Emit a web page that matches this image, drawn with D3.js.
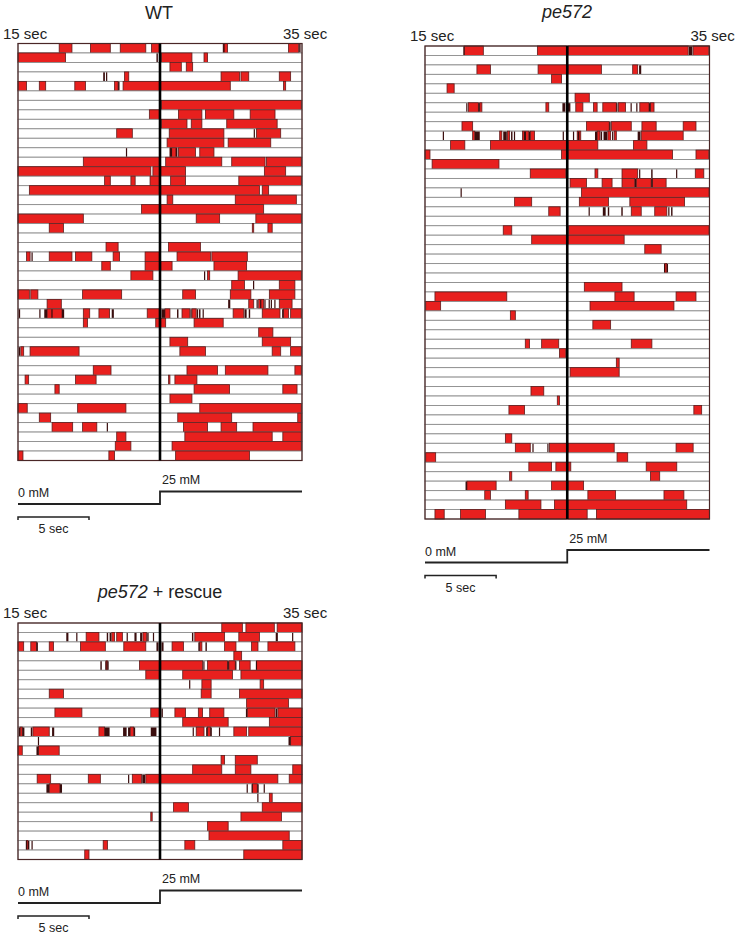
<!DOCTYPE html>
<html><head><meta charset="utf-8">
<script src="https://cdn.jsdelivr.net/npm/d3@7"></script>
<style>body{margin:0;background:#fff}svg{display:block;font-family:"Liberation Sans",Arial,sans-serif}</style>
</head><body>
<svg id="chart" width="739" height="943"></svg>
<script>
// ---------------- DATA (seconds, 15-35 window) ----------------
const timeLabels = ["15 sec", "35 sec"];
const stimLevels = [0, 25];
const stimLabels = ["0 mM", "25 mM"];
const scaleBarSec = 5;
const scaleLabel = "5 sec";
const panelTitles = ["WT", "pe572", "pe572 + rescue"];

// WT: red response intervals per larva (row)
const wtRed = [
 [[17.9,18.8],[20.1,21.5],[22.2,24.0],[24.4,24.95],[29.45,29.75],[34.05,34.75]],
 [[15,18.35],[25.1,27.25],[28.1,28.35]],
 [[25.7,26.5],[26.85,27.3]],
 [[22.5,22.8],[29.3,30.6],[30.7,31.25],[33.4,34.2]],
 [[15,15.6],[16.5,16.95],[19.0,19.75],[21.8,22.05],[22.4,24.95],[25.05,29.95],[33.7,33.85]],
 [],
 [[25.1,34.95]],
 [[24.25,24.95],[26.3,27.95],[28.2,30.2],[31.35,33.1]],
 [[25.1,26.9],[27.2,27.95],[29.7,33.25]],
 [[21.95,23.05],[25.65,29.5],[31.8,33.5]],
 [[25.5,29.5],[29.8,32.8]],
 [[25.7,26.2],[26.3,27.5],[27.8,28.8]],
 [[19.6,24.95],[25.4,29.35],[30.05,32.4],[32.5,34.95]],
 [[15,24.35],[24.5,24.95],[25.05,26.8],[32.35,33.85]],
 [[21.1,21.5],[22.95,23.25],[24.3,24.95],[25.75,26.8],[30.55,34.95]],
 [[15.8,24.95],[25.05,32.0],[32.2,32.65]],
 [[25.5,25.9],[30.3,34.6]],
 [[23.7,24.95],[25.05,32.3]],
 [[15,19.6],[27.55,29.2],[31.75,34.95]],
 [[17.2,18.2],[31.5,31.6],[32.6,32.9]],
 [],
 [[21.2,22.05],[25.6,27.85]],
 [[15.6,15.85],[17.2,18.8],[19.05,20.2],[21.7,22.15],[23.95,24.95],[26.2,28.55],[28.65,31.15]],
 [[20.9,21.5],[23.95,24.95],[25.05,25.85],[28.8,31.1]],
 [[22.95,24.5],[28.35,28.5],[30.5,34.95]],
 [[30.05,30.95],[33.4,34.5]],
 [[15,15.8],[15.9,16.4],[19.55,22.3],[26.6,27.5],[29.95,31.4],[32.7,34.5]],
 [[17.05,18.05],[31.25,31.6],[31.95,32.3],[33.4,34.3]],
 [[17.05,18.1],[19.6,20.05],[20.7,21.45],[24.1,24.95],[25.35,25.7],[26.55,27.1],[27.25,27.55],[30.15,30.9],[32.2,33.45],[33.7,34.05],[34.2,34.95]],
 [[19.6,19.9],[24.7,24.95],[25.05,25.4],[27.4,29.45]],
 [[31.95,32.95]],
 [[25.7,26.95],[32.2,34.2]],
 [[15.2,15.4],[15.85,19.3],[26.4,28.2],[32.9,33.5],[34.2,34.95]],
 [],
 [[20.3,21.55],[26.9,29.05],[29.6,32.6],[34.5,34.95]],
 [[15.5,15.75],[19.05,20.5],[25.6,25.7],[26.05,27.6]],
 [[17.6,17.9],[27.4,29.9],[33.65,34.65]],
 [[25.7,27.25]],
 [[15,15.65],[19.2,22.6],[27.8,34.95]],
 [[16.5,17.3],[26.25,30.05],[34.7,34.95]],
 [[17.4,18.85],[19.55,20.55],[26.65,28.35],[29.3,30.4],[31.55,34.95]],
 [[21.95,22.6],[26.75,32.9],[33.65,34.95]],
 [[21.85,22.95],[25.85,34.95]],
 [[15,15.35],[21.4,21.8],[26.1,31.3]]
];
// WT: brief dark events per row
const wtDark = [
 [[29.45,29.55],[34.8,34.9]],
 [[24.75,24.85]],
 [],
 [[21.0,21.12],[21.2,21.28]],
 [[22.05,22.15]],
 [],[],[],[],
 [[31.6,31.67]],
 [],
 [[22.6,22.66],[25.7,25.85],[26.1,26.2]],
 [],[],[],[],[],[],[],[],[],[],
 [[15.95,16.0]],
 [],
 [[28.1,28.15]],
 [[31.55,31.6]],
 [],
 [[29.8,29.95],[31.8,31.86],[32.05,32.1],[32.35,32.4],[32.65,32.7],[32.8,32.86],[33.05,33.1]],
 [[15.05,15.15],[16.5,16.56],[16.85,17.05],[17.35,17.4],[18.1,18.25],[21.6,21.75],[25.1,25.35],[26.2,26.3],[27.14,27.2],[27.6,27.66],[27.75,27.85],[28.0,28.07],[30.95,31.1],[31.25,31.35],[33.6,33.7]],
 [],[],[],
 [[15.05,15.15]],
 [],[],[],[],[],[],[],
 [[21.25,21.3]],
 [],[],[]
];

// pe572
const peRed = [
 [[17.75,19.1],[22.9,24.95],[25.05,33.5],[33.85,34.95]],
 [],
 [[18.65,19.6],[22.95,24.95],[25.05,27.4],[29.6,29.95]],
 [[23.9,24.6]],
 [[16.55,17.05]],
 [[25.55,26.55]],
 [[18.05,18.75],[18.85,19.0],[23.5,23.7],[25.6,26.1],[26.85,27.1],[27.5,28.45],[28.6,29.1],[30.1,30.75],[30.85,31.1]],
 [],
 [[17.6,18.35],[26.35,27.95],[28.1,29.5],[30.25,31.25],[33.15,34.05]],
 [[18.35,18.5],[20.25,20.4],[20.8,20.95],[21.85,22.3],[22.4,22.7],[25.7,25.95],[27.1,27.3],[27.85,28.05],[28.3,28.45],[30.2,33.15]],
 [[16.8,17.8],[19.6,24.95],[25.05,27.15],[29.65,30.6]],
 [[15,15.35],[24.6,24.95],[25.05,32.4],[34.05,34.95]],
 [[15.5,20.2]],
 [[22.4,24.9],[26.95,27.15],[28.85,29.95],[34.0,34.6]],
 [[25.2,26.35],[27.45,28.15],[28.85,29.75],[29.85,30.9],[31.0,31.95]],
 [[26.0,34.97]],
 [[21.3,22.5],[25.85,27.9],[29.4,33.25]],
 [[23.7,24.5],[29.5,30.2],[31.15,32.0]],
 [],
 [[20.5,21.1],[25.1,34.97]],
 [[22.5,24.95],[25.05,29.0]],
 [[30.45,31.6]],
 [],
 [[31.85,32.0]],
 [],
 [[26.2,28.85]],
 [[15.7,20.75],[28.35,29.7],[32.65,34.05]],
 [[15.05,16.1],[26.6,32.5]],
 [[21.0,21.35]],
 [[26.8,28.05]],
 [],
 [[22.05,22.35],[23.2,24.4],[29.5,30.95]],
 [[24.45,24.9]],
 [[28.45,28.65]],
 [[25.2,28.65]],
 [],
 [[22.45,23.35]],
 [[24.3,24.45]],
 [[20.9,22.0],[33.9,34.45]],
 [],
 [],
 [[20.65,21.1]],
 [[21.35,22.4],[23.75,24.95],[25.05,28.3],[32.65,33.85]],
 [[15.05,15.75],[28.5,29.25]],
 [[22.3,23.9],[24.2,25.25],[30.55,32.7]],
 [[20.95,21.1],[30.85,31.5]],
 [[17.95,20.0],[23.9,24.95],[25.05,26.15]],
 [[19.2,19.6],[22.05,22.25],[26.45,28.4],[31.8,33.2]],
 [[20.65,23.15],[24.1,24.95],[25.05,33.4]],
 [[15.7,16.35],[17.5,19.25],[21.6,24.95],[25.05,26.4],[27.05,35.0]]
];
const peDark = [
 [[17.7,17.77],[33.55,33.8]],
 [],
 [[30.05,30.2]],
 [],[],[],
 [[17.9,17.96],[18.75,18.85],[24.66,24.87],[25.0,25.22],[28.45,28.5],[29.45,29.5],[29.85,29.9],[30.75,30.85]],
 [],
 [[27.95,28.05]],
 [[16.25,16.3],[18.5,18.85],[20.5,20.75],[21.05,21.15],[21.25,21.3],[21.95,22.1],[22.3,22.4],[24.68,24.73],[25.4,25.45],[25.75,25.85],[26.95,27.1],[27.35,27.45],[27.55,27.8],[28.15,28.2],[29.95,30.15]],
 [],[],[],
 [[30.05,30.1],[30.9,31.0],[32.65,32.7]],
 [[29.75,29.85],[30.9,31.0]],
 [[17.5,17.55]],
 [],
 [[26.5,26.55],[27.5,27.7],[27.85,27.95],[28.8,28.9],[32.1,32.15],[32.3,32.4]],
 [],[],[],[],[],
 [[31.8,31.85],[32.0,32.05]],
 [],[],[],[],[],[],[],[],[],[],[],[],[],[],[],[],[],[],
 [[22.55,22.6],[23.6,23.65]],
 [],[],[],
 [[17.85,17.95]],
 [],[],[]
];

// pe572 + rescue
const rsRed = [
 [[29.35,30.8],[31.05,33.05],[33.25,35.0]],
 [[19.8,20.7],[21.6,21.8],[21.95,22.35],[23.8,24.05],[27.45,29.55],[30.55,32.0]],
 [[15,15.4],[15.9,16.3],[17.2,17.5],[19.4,21.15],[22.45,24.0],[25.85,26.65],[27.8,27.95],[29.55,30.35],[31.45,31.9],[32.6,34.5]],
 [[30.2,30.75]],
 [[21.2,21.3],[23.55,24.95],[25.05,28.0],[28.35,29.75],[29.85,30.3],[30.6,31.35],[31.8,35.0]],
 [[24.0,24.95],[26.6,30.1],[30.7,35.0]],
 [[27.95,28.6],[32.05,32.3]],
 [[17.2,18.2],[27.9,28.6],[30.6,35.0]],
 [[31.1,34.05]],
 [[17.6,19.5],[24.35,24.95],[26.05,26.8],[27.7,28.0],[28.5,29.5],[31.15,33.1],[33.3,35.0]],
 [[26.6,29.8],[32.7,35.0]],
 [[15.15,15.3],[16.05,17.2],[20.7,21.1],[22.9,23.15],[27.55,28.1],[28.35,28.55],[30.2,31.1],[31.25,35.0]],
 [[34.2,35.0]],
 [[15,15.3],[16.45,17.9]],
 [[29.3,29.55],[30.3,31.85]],
 [[27.3,29.35],[30.3,31.4],[34.35,35.0]],
 [[16.35,17.3],[19.95,20.8],[23.05,23.7],[24.0,24.95],[25.05,33.3],[34.1,35.0]],
 [[17.2,17.95],[31.5,31.85]],
 [[32.7,32.9]],
 [[25.95,27.0],[32.2,35.0]],
 [[24.35,24.45],[30.7,33.55]],
 [[28.35,29.8]],
 [[28.45,34.1]],
 [[15.6,15.7],[21.0,21.3],[26.75,27.45],[33.65,35.0]],
 [[19.7,20.0],[30.9,35.0]]
];
const rsDark = [
 [],
 [[18.4,18.55],[19.1,19.15],[21.25,21.35],[21.45,21.55],[22.65,22.7],[23.2,23.35],[23.6,23.75],[24.1,24.2],[24.5,24.55],[27.25,27.35],[33.15,33.3],[34.3,34.35]],
 [[16.3,16.4],[24.75,24.9],[25.1,25.25],[27.7,27.8],[28.2,28.3]],
 [],
 [[20.8,20.9],[21.15,21.2],[21.3,21.35],[28.05,28.1],[29.75,29.85],[30.3,30.35],[31.75,31.8]],
 [],
 [[27.05,27.1]],
 [],[],
 [[25.1,25.2],[31.05,31.1],[33.15,33.25]],
 [],
 [[15.05,15.15],[15.3,15.45],[15.9,16.0],[17.4,17.55],[21.1,21.45],[22.4,22.65],[22.75,22.9],[23.15,23.25],[24.35,24.75],[27.3,27.35],[28.25,28.35],[28.55,28.65],[29.15,29.2]],
 [[16.4,16.45],[34.05,34.2]],
 [[16.3,16.45]],
 [],[],
 [[22.75,22.8],[23.75,23.95]],
 [[17.0,17.2],[17.95,18.1],[31.1,31.15],[31.45,31.5],[31.85,31.95],[32.3,32.35]],
 [[31.85,31.9]],
 [],[],[],[],
 [[15.55,15.6],[15.7,15.8],[15.95,16.0]],
 []
];

// ---------------- DRAW ----------------
const svg = d3.select("#chart");
const RED = "#e8201e", RED_STROKE = "#5e1c1c", ROW_STROKE = "#8e8e8e", DARK = "#3a0d0d";

function panel(cfg) {
  const g = svg.append("g");
  const n = cfg.red.length;
  const x = d3.scaleLinear().domain([15, 35]).range([cfg.x0, cfg.x1]);
  const y = d3.scaleBand().domain(d3.range(n)).range([cfg.y0, cfg.y1]);
  const rows = g.selectAll("g.row").data(d3.range(n)).join("g").attr("class","row");
  rows.append("rect")
    .attr("x", x(15)).attr("width", x(35) - x(15))
    .attr("y", i => y(i)).attr("height", y.bandwidth())
    .attr("fill", "#fff").attr("stroke", ROW_STROKE).attr("stroke-width", 0.9);
  rows.selectAll("rect.r").data(i => cfg.red[i].map(d => ({i, d}))).join("rect").attr("class","r")
    .attr("x", o => x(o.d[0])).attr("width", o => Math.max(1, x(o.d[1]) - x(o.d[0])))
    .attr("y", o => y(o.i)).attr("height", y.bandwidth())
    .attr("fill", RED).attr("stroke", RED_STROKE).attr("stroke-width", 0.8);
  rows.selectAll("rect.k").data(i => (cfg.dark[i] || []).map(d => ({i, d}))).join("rect").attr("class","k")
    .attr("x", o => x(o.d[0])).attr("width", o => Math.max(1.2, x(o.d[1]) - x(o.d[0])))
    .attr("y", o => y(o.i) + 0.4).attr("height", y.bandwidth() - 0.8)
    .attr("fill", DARK);
  // frame
  g.append("rect").attr("x", cfg.x0).attr("y", cfg.y0)
    .attr("width", cfg.x1 - cfg.x0).attr("height", cfg.y1 - cfg.y0)
    .attr("fill", "none").attr("stroke", "#4a2626").attr("stroke-width", 1.2);
  // stimulus onset line
  g.append("line").attr("x1", x(25)).attr("x2", x(25))
    .attr("y1", cfg.y0).attr("y2", cfg.y1)
    .attr("stroke", "#000").attr("stroke-width", 2.6);
  // titles
  const t = g.append("text").attr("x", cfg.tx).attr("y", cfg.ty)
    .attr("text-anchor", "middle").attr("font-size", 18).attr("fill", "#222");
  if (cfg.title === panelTitles[0]) t.text(cfg.title);
  else {
    const parts = cfg.title.split(" + ");
    t.append("tspan").attr("font-style", "italic").text(parts[0]);
    if (parts[1]) t.append("tspan").text(" + " + parts[1]);
  }
  g.append("text").attr("x", cfg.x0 - 15).attr("y", cfg.y0 - 5)
    .attr("font-size", 15).attr("fill", "#222").text(timeLabels[0]);
  g.append("text").attr("x", cfg.x1 - 19).attr("y", cfg.y0 - 5)
    .attr("font-size", 15).attr("fill", "#222").text(timeLabels[1]);
  // stimulus trace
  const b = cfg.y1;
  const sy = d3.scaleLinear().domain(stimLevels).range([b + 43.5, b + 31]);
  const stimPts = [[15, stimLevels[0]], [25, stimLevels[0]], [25, stimLevels[1]], [35, stimLevels[1]]];
  g.append("path").attr("d", d3.line().x(d => x(d[0])).y(d => sy(d[1]))(stimPts))
    .attr("fill", "none").attr("stroke", "#222").attr("stroke-width", 1.8);
  g.append("text").attr("x", x(15)).attr("y", b + 36.5).attr("font-size", 12.5).attr("fill", "#222").text(stimLabels[0]);
  g.append("text").attr("x", x(25) + 2).attr("y", b + 23.5).attr("font-size", 12.5).attr("fill", "#222").text(stimLabels[1]);
  // scale bar
  const by = b + 56.5;
  g.append("path").attr("d", `M${x(15)},${by + 3}V${by}H${x(15 + scaleBarSec)}V${by + 3}`)
    .attr("fill", "none").attr("stroke", "#222").attr("stroke-width", 1.5);
  g.append("text").attr("x", (x(15) + x(15 + scaleBarSec)) / 2).attr("y", b + 72.5)
    .attr("text-anchor", "middle").attr("font-size", 12.5).attr("fill", "#222").text(scaleLabel);
}

panel({red: wtRed, dark: wtDark, x0: 18, x1: 302, y0: 43.5, y1: 460.5, title: panelTitles[0], tx: 159, ty: 18.5});
panel({red: peRed, dark: peDark, x0: 425, x1: 709.5, y0: 46, y1: 519, title: panelTitles[1], tx: 567, ty: 18});
panel({red: rsRed, dark: rsDark, x0: 18, x1: 302, y0: 623, y1: 859.5, title: panelTitles[2], tx: 160, ty: 597.5});
</script>
</body></html>
